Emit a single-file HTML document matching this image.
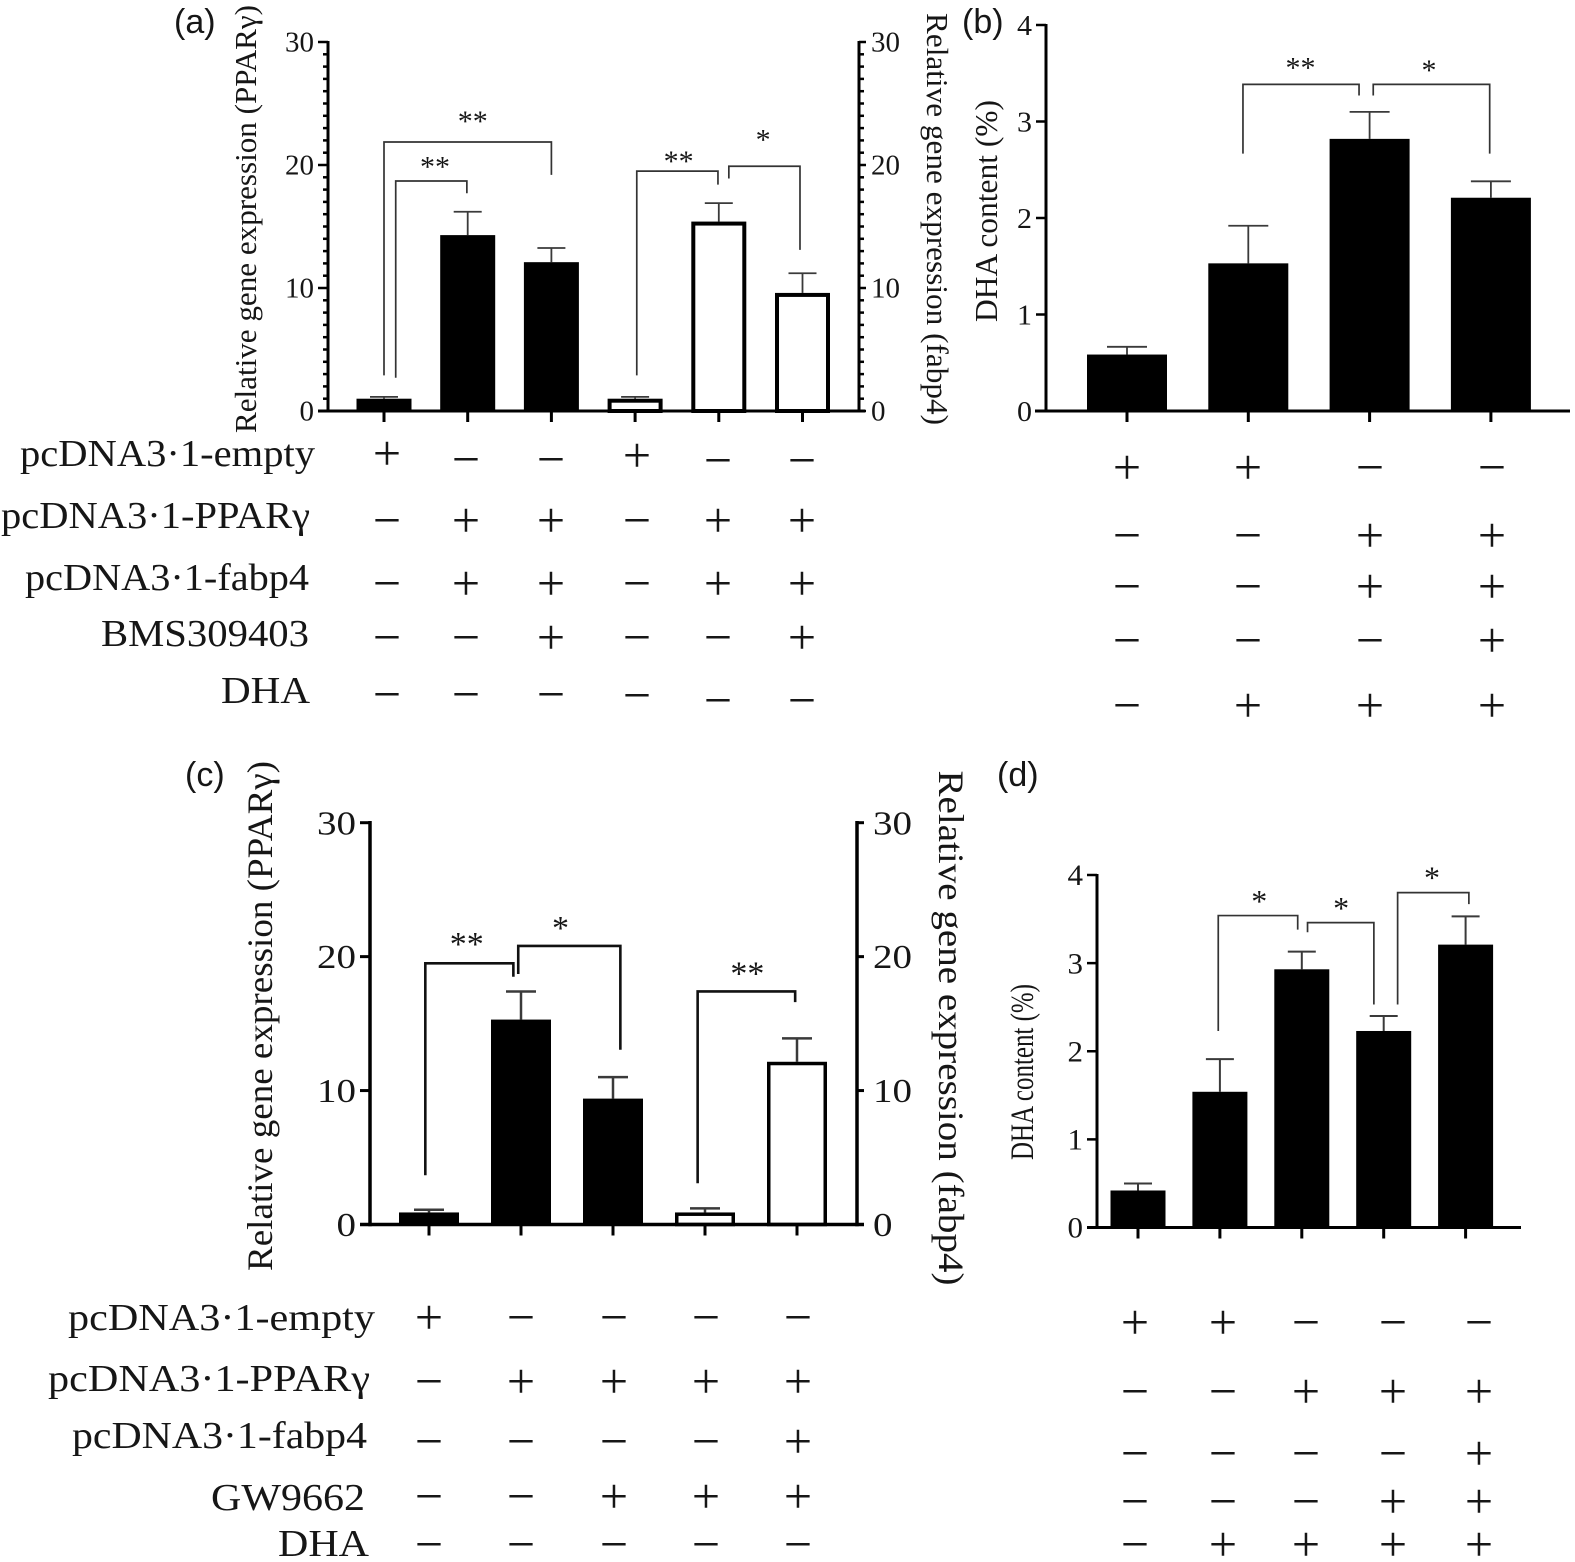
<!DOCTYPE html>
<html lang="en">
<head>
<meta charset="utf-8">
<title>PPARγ, fabp4 and DHA content panels</title>
<style>
html,body{margin:0;padding:0;background:#fff;}
#figure{display:block;width:1575px;height:1562px;background:#fff;}
text{font-family:"Liberation Serif",serif;fill:#161616;}
.panel-letter{font-family:"Liberation Sans",sans-serif;}
</style>
</head>
<body>
<svg id="figure" xmlns="http://www.w3.org/2000/svg" width="1575" height="1562" viewBox="0 0 1575 1562">
  <text class="panel-letter" x="174" y="33" font-size="34">(a)</text>
  <text class="panel-letter" x="962" y="33" font-size="34">(b)</text>
  <text class="panel-letter" x="185" y="786" font-size="34">(c)</text>
  <text class="panel-letter" x="997" y="786" font-size="34">(d)</text>
</svg>
<script>
// ---- Panel A data ----
const aCategories = ['empty', 'PPARg+fabp4', 'PPARg+fabp4+BMS', 'empty', 'PPARg+fabp4', 'PPARg+fabp4+BMS'];
const aPpargValues = [1.0, 14.3, 12.1];
const aPpargErrorTops = [1.15, 16.2, 13.25];
const aFabp4Values = [1.0, 15.4, 9.6];
const aFabp4ErrorTops = [1.15, 16.9, 11.2];
const aTickLabels = [0, 10, 20, 30];
const aBrackets = [
  [0, 2, 21.87, 2.9, 19.2, '**', 1.06, 23.9],
  [0.14, 0.99, 18.7, 2.7, 17.7, '**', 0.61, 20.2],
  [3.02, 3.99, 19.5, 2.9, 18.4, '**', 3.52, 20.65],
  [4.12, 4.97, 19.9, 18.9, 13.1, '*', 4.53, 22.4]
];
const aSigns = ['+--+--', '-++-++', '-++-++', '--+--+', '------'];
const aLabels = ['pcDNA3·1-empty', 'pcDNA3·1-PPARγ', 'pcDNA3·1-fabp4', 'BMS309403', 'DHA'];

// ---- Panel B data ----
const bCategories = ['control', 'DHA', 'PPARg+fabp4+DHA', 'PPARg+fabp4+BMS+DHA'];
const bValues = [0.585, 1.53, 2.82, 2.21];
const bErrorTops = [0.665, 1.92, 3.10, 2.38];
const bTickLabels = [0, 1, 2, 3, 4];
const bBrackets = [
  [0.956, 1.913, 3.385, 2.667, 3.27, '**', 1.43, 3.6],
  [2.03, 2.99, 3.385, 3.27, 2.667, '*', 2.49, 3.575]
];
const bSigns = ['++--', '--++', '--++', '---+', '-+++'];

// ---- Panel C data ----
const cCategories = ['empty', 'PPARg', 'PPARg+GW', 'PPARg+GW', 'PPARg+fabp4+GW'];
const cPpargValues = [0.9, 15.3, 9.4];
const cPpargErrorTops = [1.1, 17.4, 11.0];
const cFabp4Values = [0.9, 12.15];
const cFabp4ErrorTops = [1.2, 13.9];
const cTickLabels = [0, 10, 20, 30];
const cBrackets = [
  [-0.04, 0.917, 19.5, 3.68, 18.5, '**', 0.41, 21.3],
  [0.97, 2.08, 20.8, 18.7, 13.05, '*', 1.43, 22.5],
  [2.92, 3.98, 17.4, 3.08, 16.6, '**', 3.46, 19.1]
];
const cSigns = ['+----', '-++++', '----+', '--+++', '-----'];
const cLabels = ['pcDNA3·1-empty', 'pcDNA3·1-PPARγ', 'pcDNA3·1-fabp4', 'GW9662', 'DHA'];

// ---- Panel D data ----
const dCategories = ['control', 'DHA', 'PPARg+DHA', 'PPARg+GW+DHA', 'PPARg+fabp4+GW+DHA'];
const dValues = [0.42, 1.54, 2.93, 2.23, 3.21];
const dErrorTops = [0.5, 1.91, 3.13, 2.4, 3.53];
const dTickLabels = [0, 1, 2, 3, 4];
const dBrackets = [
  [0.98, 1.95, 3.54, 2.23, 3.38, '*', 1.48, 3.75],
  [2.07, 2.88, 3.46, 3.35, 2.53, '*', 2.48, 3.67],
  [3.17, 4.04, 3.8, 2.53, 3.67, '*', 3.59, 4.02]
];
const dSigns = ['++---', '--+++', '----+', '---++', '-++++'];

const svg = document.getElementById('figure');
const NS = 'http://www.w3.org/2000/svg';

function make(tag, attrs, name) {
  const el = document.createElementNS(NS, tag);
  for (const k in attrs) el.setAttribute(k, attrs[k]);
  
  
  svg.appendChild(el);
  return el;
}
function line(x1, y1, x2, y2, color, width, name) {
  return make('line', {x1, y1, x2, y2, stroke: color, 'stroke-width': width}, name);
}
function label(x, y, str, size, anchor, name, extra) {
  const t = make('text', Object.assign({x, y, 'font-size': size, 'text-anchor': anchor}, extra || {}), name);
  t.textContent = str;
  return t;
}
function axisScale(zeroY, topY, maxV) {
  return v => zeroY + (topY - zeroY) * v / maxV;
}
function catScale(x0, step) {
  return i => x0 + step * i;
}

function drawYAxis(o) {
  line(o.x, o.top, o.x, o.zero + o.width / 2, '#000', o.width, o.name + '-line');
  o.ticks.forEach(v => {
    const y = o.y(v);
    line(o.x, y, o.x + o.side * o.len, y, '#000', o.tickWidth, o.name + '-tick-' + v);
    const tx = o.x + o.side * (o.len + o.gap);
    label(tx, y + o.size * 0.34, String(v), o.size, o.side < 0 ? 'end' : 'start', o.name + '-label-' + v,
      {textLength: String(v).length * o.digit, lengthAdjust: 'spacingAndGlyphs'});
  });
  if (o.minor) {
    const maxT = o.ticks[o.ticks.length - 1];
    for (let v = 1; v < maxT; v++) {
      if (v % 10 === 0) continue;
      line(o.x, o.y(v), o.x + o.side * o.minor, o.y(v), '#000', 2.5, o.name + '-minor-tick-' + v);
    }
  }
}
function drawBars(vals, errs, cats, offset, x, y, o, white, name) {
  vals.forEach((v, i) => {
    const cx = x(i + offset), top = y(v), err = y(errs[i]);
    line(cx, top, cx, err, '#3a3a3a', o.errW, name + '-error-stem-' + (i + 1));
    line(cx - o.cap / 2, err, cx + o.cap / 2, err, '#3a3a3a', o.errW, name + '-error-cap-' + (i + 1));
    if (white) {
      const s = o.border;
      make('rect', {x: cx - o.w / 2 + s / 2, y: top + s / 2, width: o.w - s, height: y(0) - top - s / 2,
        fill: '#fff', stroke: '#000', 'stroke-width': s}, name + '-' + cats[i + offset]);
    } else {
      make('rect', {x: cx - o.w / 2, y: top, width: o.w, height: y(0) - top, fill: '#000'}, name + '-' + cats[i + offset]);
    }
  });
}
function drawBrackets(list, x, y, color, width, size, prefix) {
  list.forEach((b, i) => {
    const pts = [[x(b[0]), y(b[3])], [x(b[0]), y(b[2])], [x(b[1]), y(b[2])], [x(b[1]), y(b[4])]]
      .map(p => p.join(',')).join(' ');
    make('polyline', {points: pts, fill: 'none', stroke: color, 'stroke-width': width}, prefix + '-bracket-' + (i + 1));
    label(x(b[6]), y(b[7]) + size * 0.47, b[5], size, 'middle', prefix + '-significance-' + (i + 1));
  });
}
function drawSigns(matrix, cols, rows, prefix, nudges) {
  matrix.forEach((row, r) => {
    row.split('').forEach((c, k) => {
      const isPlus = c === '+';
      let dy = 0;
      (nudges || []).forEach(n => { if (n[0] === r && n[1] === k) dy = n[2]; });
      label(cols[k], rows[r] + 17 + dy, isPlus ? '+' : '−', 50, 'middle', prefix + (isPlus ? '-plus-' : '-minus-') + r + '-' + k);
    });
  });
}
function drawRowLabels(texts, rights, baselines, widths, prefix) {
  texts.forEach((t, i) => {
    label(rights[i], baselines[i], t, 38, 'end', prefix + '-row-label-' + (i + 1),
      {textLength: widths[i], lengthAdjust: 'spacingAndGlyphs'});
  });
}
function drawXAxis(x0, x1, zero, width, cats, x, tickLen, tickW, prefix) {
  line(x0, zero, x1, zero, '#000', width, prefix + '-x-axis');
  cats.forEach((c, i) => {
    line(x(i), zero, x(i), zero + tickLen, '#000', tickW, prefix + '-x-tick-' + (i + 1));
  });
}
function vTitle(x, cy, str, size, len, rot, name) {
  label(x, cy, str, size, 'middle', name, {
    transform: 'rotate(' + rot + ' ' + x + ' ' + cy + ')',
    textLength: len, lengthAdjust: 'spacingAndGlyphs'
  });
}

// ---- Panel A ----
(function () {
  const y = axisScale(411, 42, 30), x = catScale(384, 83.7);
  const bar = {w: 55, cap: 28, errW: 1.8, border: 4};
  drawBars(aPpargValues, aPpargErrorTops, aCategories, 0, x, y, bar, false, 'a-pparg-bar');
  drawBars(aFabp4Values, aFabp4ErrorTops, aCategories, 3, x, y, bar, true, 'a-fabp4-bar');
  drawXAxis(318, 865, 411, 3, aCategories, x, 11, 3, 'a');
  drawYAxis({name: 'a-left-axis', x: 328, top: 41, zero: 411, width: 3, y, ticks: aTickLabels, side: -1, len: 10, tickWidth: 2.5, gap: 4, size: 28, digit: 14.5, minor: 5});
  drawYAxis({name: 'a-right-axis', x: 859, top: 41, zero: 411, width: 3, y, ticks: aTickLabels, side: 1, len: 7, tickWidth: 2.5, gap: 5, size: 28, digit: 14.5, minor: 5});
  drawBrackets(aBrackets, x, y, '#333', 1.7, 30, 'a');
  vTitle(256, 219, 'Relative gene expression (PPARγ)', 31, 428, -90, 'a-left-axis-title');
  vTitle(927, 219, 'Relative gene expression (fabp4)', 31, 412, 90, 'a-right-axis-title');
  drawSigns(aSigns, [387, 466, 551, 637, 718, 802], [455, 520, 583, 637, 696], 'a',
    [[0, 0, -2], [0, 1, 4], [0, 2, 4], [0, 4, 5], [0, 5, 5], [4, 0, -2], [4, 1, -2], [4, 2, -2], [4, 3, -1], [4, 4, 4], [4, 5, 4]]);
  drawRowLabels(aLabels, [315, 310, 309, 309, 310], [466, 528, 590, 646, 703], [295, 309, 284, 208, 89], 'a');
})();

// ---- Panel B ----
(function () {
  const y = axisScale(411, 25, 4), x = catScale(1127, 121.3);
  drawBars(bValues, bErrorTops, bCategories, 0, x, y, {w: 80, cap: 40, errW: 1.8}, false, 'b-bar');
  drawXAxis(1035, 1570, 411, 3, bCategories, x, 11, 3, 'b');
  drawYAxis({name: 'b-left-axis', x: 1046, top: 24, zero: 411, width: 3, y, ticks: bTickLabels, side: -1, len: 10, tickWidth: 2.5, gap: 4, size: 29, digit: 15});
  drawBrackets(bBrackets, x, y, '#333', 1.7, 30, 'b');
  vTitle(997, 211, 'DHA content (%)', 32, 222, -90, 'b-axis-title');
  drawSigns(bSigns, [1127, 1248, 1370, 1492], [467, 535, 586, 640, 705], 'b');
})();

// ---- Panel C ----
(function () {
  const y = axisScale(1224.5, 822.7, 30), x = catScale(429, 92);
  const bar = {w: 60, cap: 30, errW: 2.5, border: 3.5};
  drawBars(cPpargValues, cPpargErrorTops, cCategories, 0, x, y, bar, false, 'c-pparg-bar');
  drawBars(cFabp4Values, cFabp4ErrorTops, cCategories, 3, x, y, bar, true, 'c-fabp4-bar');
  drawXAxis(360, 864, 1224.5, 3.5, cCategories, x, 11, 3, 'c');
  drawYAxis({name: 'c-left-axis', x: 370, top: 821, zero: 1224.5, width: 3.5, y, ticks: cTickLabels, side: -1, len: 10, tickWidth: 3, gap: 4, size: 34, digit: 19.5});
  drawYAxis({name: 'c-right-axis', x: 857, top: 821, zero: 1224.5, width: 3.5, y, ticks: cTickLabels, side: 1, len: 7, tickWidth: 3, gap: 9, size: 34, digit: 19.5});
  drawBrackets(cBrackets, x, y, '#111', 2.6, 34, 'c');
  vTitle(272, 1016, 'Relative gene expression (PPARγ)', 36, 510, -90, 'c-left-axis-title');
  vTitle(939, 1028, 'Relative gene expression (fabp4)', 36, 515, 90, 'c-right-axis-title');
  drawSigns(cSigns, [429, 521, 614, 706, 798], [1317, 1381, 1441, 1496, 1544], 'c');
  drawRowLabels(cLabels, [375, 370, 367, 365, 369], [1330, 1391, 1448, 1510, 1556], [307, 322, 295, 154, 91], 'c');
})();

// ---- Panel D ----
(function () {
  const y = axisScale(1227.5, 875, 4), x = catScale(1138, 81.9);
  drawBars(dValues, dErrorTops, dCategories, 0, x, y, {w: 55, cap: 28, errW: 2}, false, 'd-bar');
  drawXAxis(1087, 1521, 1227.5, 3, dCategories, x, 11, 3, 'd');
  drawYAxis({name: 'd-left-axis', x: 1097, top: 874, zero: 1227.5, width: 3, y, ticks: dTickLabels, side: -1, len: 10, tickWidth: 2.5, gap: 4, size: 30, digit: 15.5});
  drawBrackets(dBrackets, x, y, '#333', 1.7, 32, 'd');
  vTitle(1033, 1072, 'DHA content (%)', 33, 176, -90, 'd-axis-title');
  drawSigns(dSigns, [1135, 1223, 1306, 1393, 1479], [1322, 1391, 1453, 1501, 1544], 'd');
})();
</script>
</body>
</html>
